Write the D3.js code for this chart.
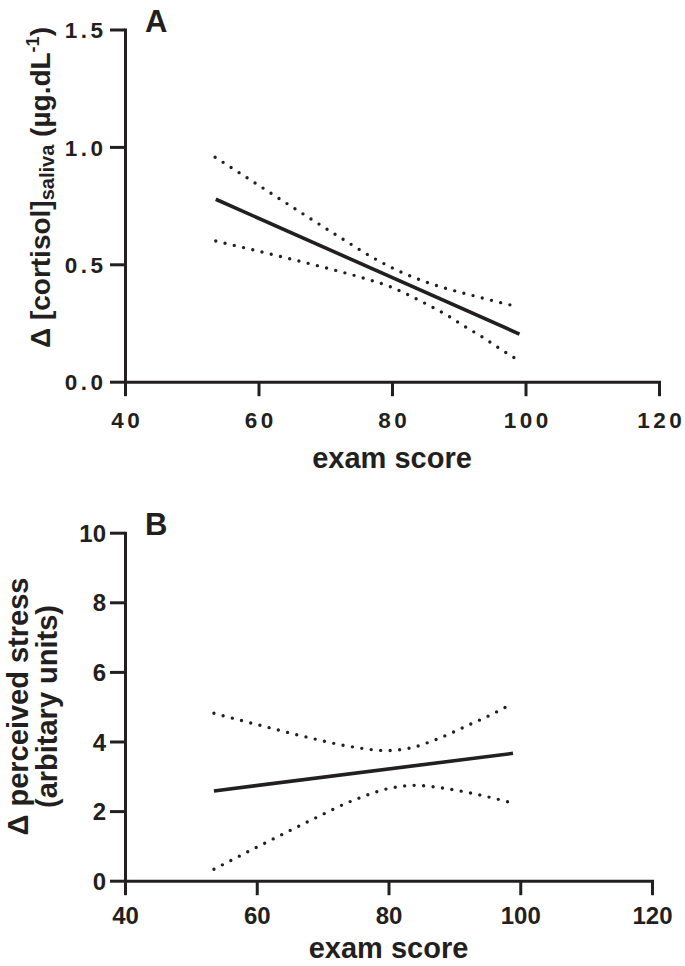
<!DOCTYPE html>
<html><head><meta charset="utf-8">
<script src="https://cdn.jsdelivr.net/npm/d3@7"></script>
<style>
body{margin:0;background:#fff;}
svg{display:block;}
text{font-family:"Liberation Sans",Arial,Helvetica,sans-serif;font-weight:bold;fill:#231f20;}
</style></head><body>
<svg id="chart" width="685" height="966"></svg>
<script>
// ---------- data ----------
const xTicks = [40, 60, 80, 100, 120];
const yTicksA = [0, 0.5, 1.0, 1.5];
const yTicksB = [0, 2, 4, 6, 8, 10];

// Panel A: regression line and 95% confidence band (exam score vs Δ cortisol)
const fitA = [[53.6, 0.777], [99.1, 0.203]];
const upperA = [[53.5, 0.956], [58.8, 0.859], [65.5, 0.736], [72.2, 0.615], [77.6, 0.521],
                [81.9, 0.460], [87.9, 0.399], [92.5, 0.364], [97.1, 0.331], [98.9, 0.319]];
const lowerA = [[53.6, 0.599], [59.7, 0.558], [65.9, 0.515], [72.1, 0.470], [76.7, 0.433],
                [79.7, 0.405], [82.5, 0.369], [85.4, 0.327], [88.2, 0.284], [90.8, 0.237],
                [93.6, 0.189], [96.3, 0.138], [98.9, 0.092]];

// Panel B: regression line and 95% confidence band (exam score vs Δ perceived stress)
const fitB = [[53.5, 2.58], [98.9, 3.66]];
const upperB = [[53.5, 4.81], [61.2, 4.43], [67.3, 4.14], [73.5, 3.88], [79.7, 3.74],
                [83.0, 3.80], [87.5, 4.08], [91.9, 4.45], [96.2, 4.83], [98.9, 5.10]];
const lowerB = [[53.5, 0.33], [60.5, 1.01], [67.6, 1.68], [74.8, 2.32], [80.8, 2.68],
                [84.0, 2.74], [88.7, 2.65], [93.4, 2.48], [98.0, 2.27], [98.9, 2.22]];

// ---------- drawing ----------
const INK = "#231f20";
const svg = d3.select("#chart");

function panel(o) {
  const g = svg.append("g");
  const x = d3.scaleLinear().domain([40, 120]).range([o.x0, o.x1]);
  const y = d3.scaleLinear().domain([0, o.ymax]).range([o.y0, o.y1]);

  // x axis
  const gx = g.append("g").attr("transform", `translate(0,${o.y0})`)
    .call(d3.axisBottom(x).tickValues(xTicks).tickSize(14.5).tickSizeOuter(0));
  gx.attr("font-family", null).attr("font-size", null);
  gx.selectAll("text").attr("y", o.xLabY).attr("dy", 0)
    .attr("x", o.ls / 2).attr("fill", INK)
    .style("font-size", o.tickFs + "px").style("letter-spacing", o.ls + "px");

  // y axis
  const gy = g.append("g").attr("transform", `translate(${o.x0},0)`)
    .call(d3.axisLeft(y).tickValues(o.yTicks).tickFormat(o.fmt).tickSize(15).tickSizeOuter(0));
  gy.attr("font-family", null).attr("font-size", null);
  gy.selectAll("text").attr("x", o.yLabX).attr("dy", "0.36em").attr("fill", INK)
    .style("font-size", o.tickFs + "px").style("letter-spacing", o.ls + "px");

  g.selectAll(".domain, .tick line").attr("stroke", INK).attr("stroke-width", 3);
  g.selectAll(".domain").attr("stroke-linecap", "square");

  const line = d3.line().x(d => x(d[0])).y(d => y(d[1]));
  const curve = d3.line().x(d => x(d[0])).y(d => y(d[1])).curve(d3.curveMonotoneX);

  [o.upper, o.lower].forEach(band => {
    g.append("path").attr("d", curve(band)).attr("fill", "none")
      .attr("stroke", INK).attr("stroke-width", 3.4)
      .attr("stroke-linecap", "round").attr("stroke-dasharray", "0,9.5");
  });
  g.append("path").attr("d", line(o.fit)).attr("fill", "none")
    .attr("stroke", INK).attr("stroke-width", 3.6);

  // x title
  g.append("text").attr("x", (o.x0 + o.x1) / 2).attr("y", o.xTitleY)
    .attr("text-anchor", "middle").style("font-size", "29px").text("exam score");

  // panel letter
  g.append("text").attr("x", 145).attr("y", o.letterY)
    .style("font-size", "31px").text(o.letter);
  return g;
}

// Panel A
const gA = panel({
  x0: 125, x1: 659, y0: 381.7, y1: 29.5, ymax: 1.5,
  yTicks: yTicksA, fmt: d3.format(".1f"),
  tickFs: 22.5, ls: 3.5, xLabY: 46.8, yLabX: -18.5,
  fit: fitA, upper: upperA, lower: lowerA,
  xTitleY: 468, letter: "A", letterY: 32
});
// y title A (with subscript / superscript)
const tA = gA.append("text")
  .attr("transform", "translate(50,348) rotate(-90)")
  .attr("text-anchor", "start").style("font-size", "28px");
tA.append("tspan").text("Δ [cortisol]");
tA.append("tspan").attr("dy", 3.5).style("font-size", "20px").text("saliva");
tA.append("tspan").attr("dy", -3.5).text(" (µg.dL");
tA.append("tspan").attr("dy", -11).style("font-size", "18px").text("-1");
tA.append("tspan").attr("dy", 11).text(")");

// Panel B
const gB = panel({
  x0: 125, x1: 652, y0: 880.7, y1: 532.7, ymax: 10,
  yTicks: yTicksB, fmt: d3.format("d"),
  tickFs: 24, ls: 0, xLabY: 43.5, yLabX: -19,
  fit: fitB, upper: upperB, lower: lowerB,
  xTitleY: 958, letter: "B", letterY: 535
});
const tB = gB.append("text")
  .attr("transform", "translate(0,706.5) rotate(-90)")
  .attr("text-anchor", "middle").style("font-size", "29px");
tB.append("tspan").attr("x", 0).attr("y", 28).text("Δ perceived stress");
tB.append("tspan").attr("x", 0).attr("y", 57).text("(arbitary units)");
</script>
</body></html>
